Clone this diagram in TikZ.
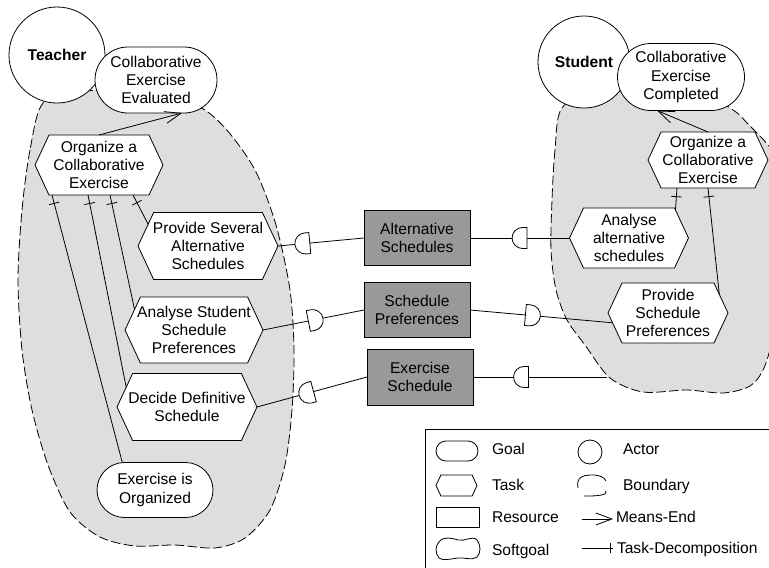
\documentclass[tikz,border=0pt]{standalone}
\usepackage{fontspec}
\setmainfont{Liberation Sans}
\usetikzlibrary{shapes.symbols,shapes.misc,arrows.meta,decorations.markings,calc}

\definecolor{bndgray}{HTML}{DEDEDE}
\definecolor{resgray}{HTML}{999999}

\begin{document}
\begin{tikzpicture}[x=0.75pt,y=-0.75pt, line width=0.6pt,
  font=\fontsize{11.7}{13.8}\selectfont,
  every node/.style={inner sep=0pt, outer sep=0pt},
  actor/.style={circle, draw, fill=white, font=\fontsize{11.7}{13.8}\selectfont\bfseries},
  goal/.style={rounded rectangle, draw, fill=white, align=center},
  task/.style={signal, signal to=west and east, signal pointer angle=130, draw, fill=white},
  resource/.style={rectangle, draw, fill=resgray, align=center},
  boundary/.style={draw, fill=bndgray, dash pattern=on 7pt off 2.6pt},
  meansend/.style={-{Straight Barb[length=12pt,width=9pt]}},
  decomp/.style={postaction={decorate}, decoration={markings,
      mark=at position #1 with {\draw (0,-4pt) -- (0,4pt);}}},
  decomp/.default=6.5pt,
  depfwd/.style={postaction={decorate}, decoration={markings,
      mark=at position #1 with {\draw[fill=white] (-5.5pt,-7.9pt) -- (-5.5pt,7.9pt) -- (-2.15pt,7.9pt)
        arc[start angle=90, end angle=-90, radius=7.9pt] -- cycle;}}},
  depbwd/.style={postaction={decorate}, decoration={markings,
      mark=at position #1 with {\draw[fill=white] (5.5pt,-7.9pt) -- (5.5pt,7.9pt) -- (2.15pt,7.9pt)
        arc[start angle=90, end angle=270, radius=7.9pt] -- cycle;}}},
  legendtext/.style={anchor=west, text height=8.4pt, text depth=0pt}
]
\useasboundingbox (0,0) rectangle (769,568);
\clip (0,0) rectangle (769,568);

% actor boundaries
\path[boundary] plot[smooth cycle] coordinates {
  (43,103) (30,150) (22,210) (18,280) (22,350) (32,410) (48,465) (70,512)
  (100,537) (135,546) (175,545) (215,548) (245,538) (270,510) (285,465)
  (292,410) (294,350) (290,290) (276,225) (255,170) (225,128) (195,105)
  (130,90) (80,92)};
\path[boundary] plot[smooth cycle] coordinates {
  (562,108) (555,150) (552,200) (551,250) (556,290) (567,320) (585,345)
  (610,378) (643,392) (687,390) (723,393) (750,386) (764,368) (776,330)
  (800,260) (795,190) (772,150) (748,124) (733,110) (700,95) (600,90)};

% Teacher
\node[actor, minimum size=72pt] (teacher) at (57,55) {Teacher};
\node[goal, minimum width=91.5pt, minimum height=49.5pt] (tg) at (156,80)
  {Collaborative\\Exercise\\Evaluated};
\node[task, minimum width=96pt, minimum height=45pt,
  label={[align=center]center:Organize a\\Collaborative\\Exercise}] (torg) at (99,165) {};
\node[task, minimum width=105pt, minimum height=50.25pt,
  label={[align=center]center:Provide Several\\Alternative\\Schedules}] (tps) at (208,246) {};
\node[task, minimum width=103.5pt, minimum height=49.5pt,
  label={[align=center]center:Analyse Student\\Schedule\\Preferences}] (tas) at (194,330) {};
\node[task, minimum width=105pt, minimum height=50.25pt,
  label={[align=center]center:Decide Definitive\\Schedule}] (tdd) at (187,407) {};
\node[goal, minimum width=87pt, minimum height=41.25pt] (teo) at (155,490)
  {Exercise is\\Organized};

% Student
\node[actor, minimum size=69pt] (student) at (584,62) {Student};
\node[goal, minimum width=95.25pt, minimum height=50.25pt] (sg) at (681,77)
  {Collaborative\\Exercise\\Completed};
\node[task, minimum width=90pt, minimum height=42pt,
  label={[align=center]center:Organize a\\Collaborative\\Exercise}] (sorg) at (708,160) {};
\node[task, minimum width=89.25pt, minimum height=45pt,
  label={[align=center]center:Analyse\\alternative\\schedules}] (saa) at (629,238) {};
\node[task, minimum width=90pt, minimum height=45pt,
  label={[align=center]center:Provide\\Schedule\\Preferences}] (spsp) at (668,313) {};
\coordinate (sb) at (607,377);

% resources
\node[resource, minimum width=79.5pt, minimum height=41.25pt] (ras) at (417,238) {Alternative\\Schedules};
\node[resource, minimum width=79.5pt, minimum height=41.25pt] (rsp) at (417,310) {Schedule\\Preferences};
\node[resource, minimum width=79.5pt, minimum height=42pt] (res) at (420,377) {Exercise\\Schedule};

% means-end links
\draw[meansend] (torg.north) -- ($(tg.south)+(26,0)$);
\draw[meansend] (sorg.north) -- ($(sg.south)+(-24,0)$);

% task decompositions
\draw[decomp] ($(torg.south)+(-47,0)$) -- (teo.140);
\draw[decomp] ($(torg.south)+(-11,0)$) -- (tdd.162);
\draw[decomp] ($(torg.south)+(11,0)$) -- (tas.161);
\draw[decomp] ($(torg.south)+(34,0)$) -- (tps.160);
\draw[decomp] ($(sorg.south)+(-31,0)$) -- (saa.31);
\draw[decomp] (sorg.south) -- (spsp.20);

% dependencies
\draw[depbwd=0.285] (tps.east) -- (ras.west);
\draw[depbwd=0.5] (ras.east) -- (saa.west);
\draw[depfwd=0.52] (tas.east) -- (rsp.west);
\draw[depfwd=0.44] (rsp.east) -- (spsp.190);
\draw[depbwd=0.45] (tdd.east) -- (res.west);
\draw[depbwd=0.36] (res.east) -- (sb);

% legend
\draw (425,429) rectangle (800,600);
\node[goal, minimum width=31.5pt, minimum height=15pt] (lgoal) at (457,451) {};
\node[legendtext] (lgoalt) at (492,449) {Goal};
\node[actor, minimum size=18pt] (lactor) at (590,452) {};
\node[legendtext] (lactort) at (623,449) {Actor};
\node[task, minimum width=30.75pt, minimum height=15.75pt] (ltask) at (456.5,485.5) {};
\node[legendtext] (ltaskt) at (492,485) {Task};
\draw (578,488) .. controls (576,478) and (582,475) .. (592,475)
  .. controls (600,475) and (604,477) .. (606,481);
\draw (584,496) .. controls (592,496) and (600,496) .. (605,494) -- (606,491);
\node[legendtext] (lbndt) at (623,485) {Boundary};
\node[rectangle, draw, fill=white, minimum width=32.25pt, minimum height=15pt] (lres) at (457.5,517) {};
\node[legendtext] (lrest) at (492,517) {Resource};
\coordinate (lme1) at (582,519);
\coordinate (lme2) at (613,519);
\draw[meansend] (lme1) -- (lme2);
\node[legendtext] (lmet) at (616,517) {Means-End};
\draw (439,542) .. controls (443,536) and (452,538) .. (458,540)
  .. controls (465,542) and (472,535) .. (477,540)
  .. controls (481,545) and (481,553) .. (477,557)
  .. controls (470,561) and (465,557) .. (458,558)
  .. controls (450,559) and (443,561) .. (439,558)
  .. controls (435,553) and (435,546) .. (439,542);
\node[legendtext] (lsgt) at (492,550) {Softgoal};
\coordinate (ltd1) at (582,548);
\coordinate (ltd2) at (613,548);
\draw[decomp=0.9] (ltd1) -- (ltd2);
\node[legendtext] (ltdt) at (617,548) {Task-Decomposition};
\end{tikzpicture}
\end{document}
